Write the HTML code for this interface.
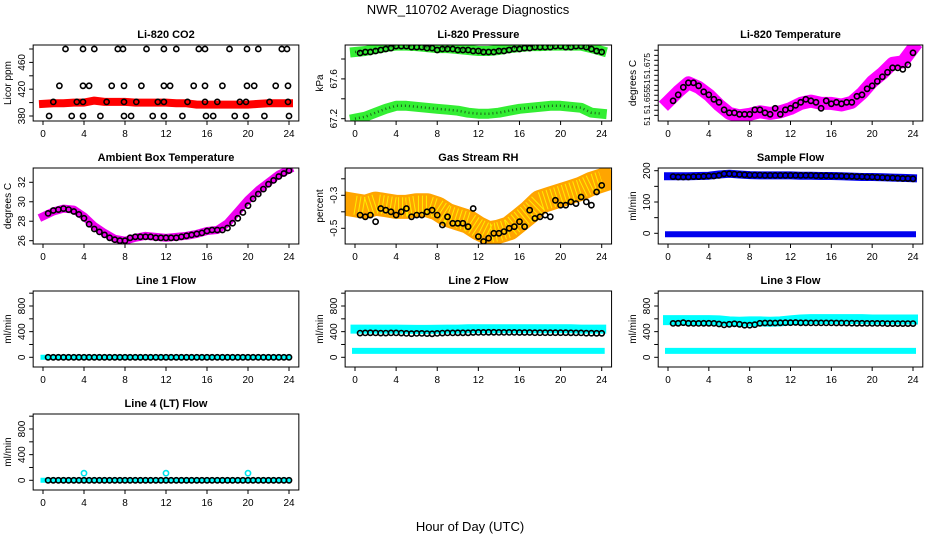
<!DOCTYPE html>
<html><head><meta charset="utf-8"><style>
html,body{margin:0;padding:0;background:#fff}
svg{display:block;font-family:"Liberation Sans",sans-serif}
</style></head><body>
<svg id="chart" width="936" height="540" viewBox="0 0 936 540">
<text x="468" y="14" text-anchor="middle" font-size="13">NWR_110702  Average Diagnostics</text>
<text x="470" y="531" text-anchor="middle" font-size="13">Hour of Day (UTC)</text>
</svg>
<script>
const hours = [0,1,2,3,4,5,6,7,8,9,10,11,12,13,14,15,16,17,18,19,20,21,22,23,24];
const halfHours = [0.5,1,1.5,2,2.5,3,3.5,4,4.5,5,5.5,6,6.5,7,7.5,8,8.5,9,9.5,10,10.5,11,11.5,12,12.5,13,13.5,14,14.5,15,15.5,16,16.5,17,17.5,18,18.5,19,19.5,20,20.5,21,21.5,22,22.5,23,23.5,24];
const xTicks = [0,4,8,12,16,20,24];

const co2Band = [398,399,399,400,400,403,401,401,401,400,400,400,400,399,399,397,397,397,397,397,397,398,399,399,399];
const co2Times = [2.2,3.9,5,7.3,7.8,10.1,11.8,13,15.2,15.8,18.2,19.9,21,23.3,23.8,
 1.6,3.9,4.5,6.7,7.9,9.6,11.8,12.4,14.7,15.8,17.5,19.9,20.6,22.7,23.9,
 1,3.3,3.9,6.2,7.9,9.1,11.2,11.8,14.1,15.8,17,19.2,19.8,22.1,23.9,
 0.6,2.8,3.9,5.6,7.9,8.6,10.7,11.8,13.6,15.9,16.6,18.7,19.8,21.6,24];
const co2Vals = [480,480,480,480,480,480,480,480,480,480,480,480,480,480,480,
 425,425,425,425,425,425,425,425,425,425,425,425,425,425,425,
 401,401,401,401,401,401,401,401,401,401,401,401,401,401,401,
 380,380,380,380,380,380,380,380,380,380,380,380,380,380,380];

const presUpper = [67.87,67.88,67.90,67.92,67.935,67.935,67.93,67.92,67.91,67.91,67.90,67.89,67.88,67.88,67.89,67.91,67.92,67.93,67.93,67.935,67.935,67.935,67.935,67.91,67.88];
const presLower = [67.20,67.22,67.26,67.30,67.33,67.33,67.32,67.31,67.30,67.29,67.28,67.26,67.25,67.25,67.26,67.28,67.30,67.31,67.32,67.33,67.33,67.32,67.31,67.26,67.25];
const presCircles = [67.86,67.87,67.87,67.88,67.89,67.90,67.91,67.93,67.93,67.93,67.92,67.92,67.92,67.91,67.91,67.89,67.90,67.90,67.90,67.89,67.89,67.89,67.88,67.88,67.87,67.87,67.87,67.88,67.88,67.89,67.90,67.90,67.91,67.91,67.92,67.92,67.92,67.92,67.93,67.93,67.92,67.92,67.93,67.93,67.92,67.90,67.88,67.87];

const tempBand = [51.6554,51.6621,51.668,51.665,51.6599,51.6532,51.6476,51.646,51.647,51.6487,51.6476,51.6487,51.6509,51.6543,51.6558,51.6543,51.6543,51.6532,51.655,51.661,51.6687,51.6743,51.681,51.682,51.691];
const tempCircles = [51.656,51.660,51.665,51.668,51.668,51.666,51.662,51.660,51.657,51.655,51.650,51.648,51.648,51.647,51.647,51.647,51.650,51.650,51.648,51.647,51.651,51.647,51.650,51.651,51.653,51.655,51.657,51.656,51.655,51.651,51.656,51.654,51.655,51.654,51.655,51.655,51.659,51.660,51.664,51.666,51.669,51.672,51.675,51.678,51.678,51.677,51.680,51.688];

const ambBand = [28.5,29.0,29.3,29.2,28.5,27.5,26.8,26.2,26.0,26.3,26.5,26.4,26.3,26.4,26.5,26.7,27.0,27.1,27.8,29.0,30.2,31.2,32.0,32.8,33.3];
const ambCircles = [28.8,29.1,29.2,29.3,29.2,29.0,28.7,28.3,27.7,27.2,26.9,26.6,26.3,26.1,26.0,26.0,26.3,26.4,26.4,26.4,26.4,26.3,26.3,26.3,26.3,26.3,26.4,26.5,26.6,26.7,26.8,27.0,27.1,27.1,27.1,27.3,27.8,28.3,28.9,29.6,30.3,30.8,31.3,31.8,32.2,32.6,32.9,33.2];

const rhBand = [-0.36,-0.37,-0.35,-0.36,-0.37,-0.37,-0.36,-0.36,-0.38,-0.42,-0.44,-0.46,-0.50,-0.53,-0.52,-0.50,-0.45,-0.40,-0.34,-0.32,-0.30,-0.28,-0.26,-0.23,-0.21];
const rhCircles = [-0.42,-0.43,-0.42,-0.46,-0.38,-0.39,-0.40,-0.42,-0.40,-0.38,-0.43,-0.42,-0.42,-0.40,-0.39,-0.42,-0.48,-0.43,-0.47,-0.47,-0.47,-0.49,-0.38,-0.55,-0.58,-0.56,-0.53,-0.53,-0.52,-0.50,-0.49,-0.46,-0.49,-0.39,-0.44,-0.43,-0.42,-0.43,-0.33,-0.36,-0.36,-0.34,-0.35,-0.31,-0.34,-0.36,-0.28,-0.24];

const flowUpper = [182,182,182,183,184,188,190,188,186,185,185,185,185,184,184,183,183,182,181,180,180,179,178,177,176];
const flowLower = [-3,-3,-3,-3,-3,-3,-3,-3,-3,-3,-3,-3,-3,-3,-3,-3,-3,-3,-3,-3,-3,-3,-3,-3,-3];
const flowCircles = [181,180,180,180,181,181,182,183,183,185,190,190,189,188,187,186,186,186,185,185,185,185,185,185,185,185,185,185,184,184,184,183,183,183,182,182,181,181,180,180,179,178,177,177,176,175,175,174];

const line1Band = [0,0,0,0,0,0,0,0,0,0,0,0,0,0,0,0,0,0,0,0,0,0,0,0,0];
const line1Circles = [0,0,0,0,0,0,0,0,0,0,0,0,0,0,0,0,0,0,0,0,0,0,0,0,0,0,0,0,0,0,0,0,0,0,0,0,0,0,0,0,0,0,0,0,0,0,0,0];
const line2Upper = [440,440,440,440,440,438,435,435,436,440,440,445,445,445,445,445,445,445,445,445,445,445,440,440,440];
const line2Lower = [100,100,100,100,100,100,100,100,100,100,100,100,100,100,100,100,100,100,100,100,100,100,100,100,100];
const line2Circles = [378,380,382,380,378,378,380,380,378,372,368,372,372,370,366,372,378,380,380,382,382,382,386,388,388,390,390,388,388,388,388,386,386,386,384,384,384,384,384,384,384,382,380,380,376,376,374,374];
const line3Upper = [580,580,580,580,580,575,560,555,560,560,555,560,575,590,595,595,595,595,595,595,590,590,590,590,590];
const line3Lower = [100,100,100,100,100,100,100,100,100,100,100,100,100,100,100,100,100,100,100,100,100,100,100,100,100];
const line3Circles = [528,530,540,530,528,528,530,530,528,520,505,515,522,515,500,500,508,530,535,535,535,538,540,540,542,538,538,536,536,536,536,536,535,535,534,532,530,530,528,528,528,528,526,526,526,526,526,525];
const line4Band = [0,0,0,0,0,0,0,0,0,0,0,0,0,0,0,0,0,0,0,0,0,0,0,0,0];
const line4SpikeTimes = [4,12,20];
const line4SpikeVals = [110,110,110];
const line4Circles = [0,0,0,0,0,0,0,0,0,0,0,0,0,0,0,0,0,0,0,0,0,0,0,0,0,0,0,0,0,0,0,0,0,0,0,0,0,0,0,0,0,0,0,0,0,0,0,0];

const NS = 'http://www.w3.org/2000/svg';
const svg = document.getElementById('chart');
const cols = [{x0:43,x24:289},{x0:355,x24:601.7},{x0:668,x24:913}];
const rows = [45,168,291,414];
const H = 76;

function mk(tag, attrs, parent){
  const e = document.createElementNS(NS, tag);
  for (const k in attrs) e.setAttribute(k, attrs[k]);
  (parent||svg).appendChild(e);
  return e;
}

function panel(p){
  const c = cols[p.col], top = rows[p.row], bot = top + H;
  const left = c.x0 - (c.x24-c.x0)/24*0.96, right = c.x24 + (c.x24-c.x0)/24*0.96;
  const xs = t => c.x0 + (c.x24 - c.x0) * t / 24;
  const ys = v => p.y0px + (v - p.y0) * (p.y1px - p.y0px) / (p.y1 - p.y0);
  const g = mk('g', {});
  
  
  const clipId = 'clip-' + p.name;
  const cp = mk('clipPath', {id: clipId}, g);
  mk('rect', {x: left, y: top, width: right-left, height: H}, cp);
  const plot = mk('g', {'clip-path': 'url(#' + clipId + ')'}, g);
  
  
  (p.bands||[]).forEach((b, i) => {
    const pts = b.times.map((t, j) => xs(t).toFixed(1) + ',' + ys(b.vals[j]).toFixed(1)).join(' ');
    const pl = mk('polyline', {points: pts, fill: 'none', stroke: b.color, 'stroke-width': b.w, 'stroke-linejoin': 'round', 'stroke-linecap': 'square'}, plot);
    
    
    if (b.dots) {
      const pl2 = mk('polyline', {points: pts, fill: 'none', stroke: b.dots, 'stroke-width': b.w*(b.dw||0.3), 'stroke-dasharray': '1 3', 'stroke-linejoin': 'round'}, plot);
      
      
    }
  });
  (p.points||[]).forEach((s, i) => {
    s.times.forEach((t, j) => {
      const ci = mk('circle', {cx: xs(t).toFixed(1), cy: ys(s.vals[j]).toFixed(1), r: s.r||2.6, fill: 'none', stroke: s.color, 'stroke-width': 1.6}, plot);
      
      
    });
  });
  const box = mk('rect', {x: left, y: top, width: right-left, height: H, fill: 'none', stroke: '#000', 'stroke-width': 1}, g);
  
  
  const tt = mk('text', {x: (left+right)/2, y: top - 7, 'text-anchor': 'middle', 'font-size': 11, 'font-weight': 'bold'}, g);
  tt.textContent = p.title;
  
  
  mk('line', {x1: xs(0), x2: xs(24), y1: bot, y2: bot, stroke: '#000'}, g);
  xTicks.forEach(t => {
    mk('line', {x1: xs(t), x2: xs(t), y1: bot, y2: bot + 4, stroke: '#000'}, g);
    const lb = mk('text', {x: xs(t), y: bot + 16, 'text-anchor': 'middle', 'font-size': 10}, g);
    lb.textContent = t;
    
    
  });
  p.yTicks.forEach(v => {
    const y = ys(v);
    if (y < top - 0.5 || y > bot + 0.5) return;
    mk('line', {x1: left - 4, x2: left, y1: y, y2: y, stroke: '#000'}, g);
  });
  const fs = p.yFont || 10;
  p.yLabels.forEach((lab, i) => {
    const y = p.yLabelPx ? p.yLabelPx[i] : ys(p.yLabelVals[i]);
    const lb = mk('text', {x: 0, y: 0, 'text-anchor': 'middle', 'font-size': fs, transform: 'translate(' + (left - 8) + ',' + y.toFixed(1) + ') rotate(-90)'}, g);
    lb.textContent = lab;
    
    
  });
  const yt = mk('text', {x: 0, y: 0, 'text-anchor': 'middle', 'font-size': 10, transform: 'translate(' + (left - 22) + ',' + ((top+bot)/2) + ') rotate(-90)'}, g);
  yt.textContent = p.ylab;
  
  
}

const lineTicks = [-200,0,200,400,600,800,1000];
panel({name:'co2', title:'Li-820 CO2', ylab:'Licor ppm', col:0,row:0, y0:380,y0px:116,y1:480,y1px:49,
  yTicks:[380,400,420,440,460,480], yLabels:['380','420','460'], yLabelVals:[380,420,460],
  bands:[{times:hours, vals:co2Band, color:'#ff0000', w:8}],
  points:[{times:co2Times, vals:co2Vals, color:'#000'}]});
panel({name:'pressure', title:'Li-820 Pressure', ylab:'kPa', col:1,row:0, y0:67.2,y0px:118.7,y1:67.8,y1px:59,
  yTicks:[67.2,67.4,67.6,67.8], yLabels:['67.2','67.6'], yLabelVals:[67.2,67.6],
  bands:[{times:hours, vals:presUpper, color:'#33ee33', w:10, dots:'#1a661a', dw:0.25},{times:hours, vals:presLower, color:'#33ee33', w:10, dots:'#1a661a', dw:0.25}],
  points:[{times:halfHours, vals:presCircles, color:'#000'}]});
panel({name:'li820-temperature', title:'Li-820 Temperature', ylab:'degrees C', col:2,row:0, y0:51.655,y0px:102.3,y1:51.675,y1px:72.3,
  yTicks:[51.6463,51.6497,51.653,51.6563,51.6597,51.663,51.6663,51.6697,51.673,51.6763,51.6797,51.683,51.6863,51.6897],
  yLabels:['51','51.655','51','51.675'], yLabelPx:[121,101,84,66], yFont:8.5,
  bands:[{times:hours, vals:tempBand, color:'#ff00ff', w:13}],
  points:[{times:halfHours, vals:tempCircles, color:'#000'}]});
panel({name:'ambient-temperature', title:'Ambient Box Temperature', ylab:'degrees C', col:0,row:1, y0:26,y0px:240.7,y1:32,y1px:182.3,
  yTicks:[26,28,30,32], yLabels:['26','28','30','32'], yLabelVals:[26,28,30,32],
  bands:[{times:hours, vals:ambBand, color:'#ee00ee', w:8}],
  points:[{times:halfHours, vals:ambCircles, color:'#000'}]});
panel({name:'gas-stream-rh', title:'Gas Stream RH', ylab:'percent', col:1,row:1, y0:-0.5,y0px:228.3,y1:-0.3,y1px:195.3,
  yTicks:[-0.6,-0.5,-0.4,-0.3,-0.2], yLabels:['-0.5','-0.3'], yLabelVals:[-0.5,-0.3],
  bands:[{times:hours, vals:rhBand, color:'#ffa500', w:24, dots:'#ffee00', dw:0.8}],
  points:[{times:halfHours, vals:rhCircles, color:'#000'}]});
panel({name:'sample-flow', title:'Sample Flow', ylab:'ml/min', col:2,row:1, y0:0,y0px:233.3,y1:200,y1px:170.7,
  yTicks:[0,50,100,150,200], yLabels:['0','100','200'], yLabelVals:[0,100,200],
  bands:[{times:hours, vals:flowUpper, color:'#0000ee', w:8},{times:hours, vals:flowLower, color:'#0000ee', w:6}],
  points:[{times:halfHours, vals:flowCircles, color:'#000'}]});
panel({name:'line1-flow', title:'Line 1 Flow', ylab:'ml/min', col:0,row:2, y0:0,y0px:357.3,y1:800,y1px:306,
  yTicks:lineTicks, yLabels:['0','400','800'], yLabelVals:[0,400,800],
  bands:[{times:hours, vals:line1Band, color:'#00ffff', w:5}],
  points:[{times:halfHours, vals:line1Circles, color:'#000'}]});
panel({name:'line2-flow', title:'Line 2 Flow', ylab:'ml/min', col:1,row:2, y0:0,y0px:357.3,y1:800,y1px:306,
  yTicks:lineTicks, yLabels:['0','400','800'], yLabelVals:[0,400,800],
  bands:[{times:hours, vals:line2Upper, color:'#00ffff', w:9},{times:hours, vals:line2Lower, color:'#00ffff', w:6}],
  points:[{times:halfHours, vals:line2Circles, color:'#000'}]});
panel({name:'line3-flow', title:'Line 3 Flow', ylab:'ml/min', col:2,row:2, y0:0,y0px:357.3,y1:800,y1px:306,
  yTicks:lineTicks, yLabels:['0','400','800'], yLabelVals:[0,400,800],
  bands:[{times:hours, vals:line3Upper, color:'#00ffff', w:10},{times:hours, vals:line3Lower, color:'#00ffff', w:6}],
  points:[{times:halfHours, vals:line3Circles, color:'#000'}]});
panel({name:'line4-flow', title:'Line 4 (LT) Flow', ylab:'ml/min', col:0,row:3, y0:0,y0px:480.3,y1:800,y1px:429,
  yTicks:lineTicks, yLabels:['0','400','800'], yLabelVals:[0,400,800],
  bands:[{times:hours, vals:line4Band, color:'#00ffff', w:5}],
  points:[{times:line4SpikeTimes, vals:line4SpikeVals, color:'#00e5ee'},{times:halfHours, vals:line4Circles, color:'#000'}]});
</script>
</body></html>
